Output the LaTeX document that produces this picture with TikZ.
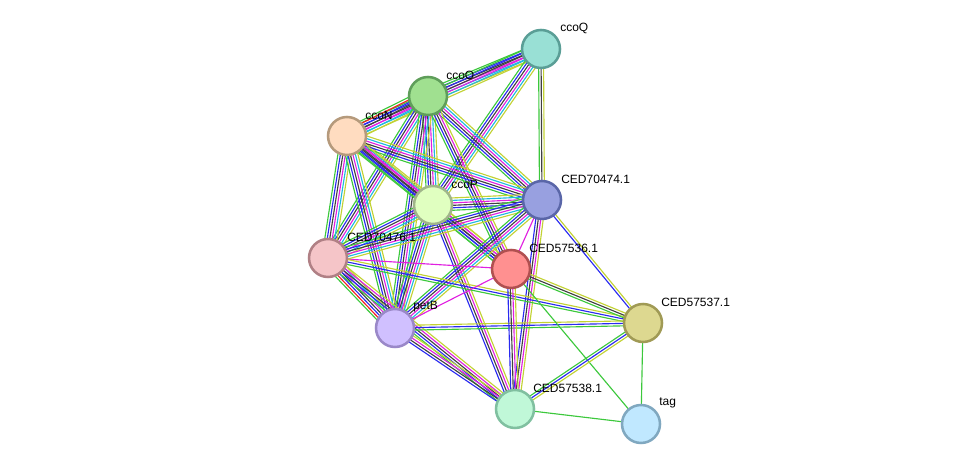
\documentclass[tikz,border=0pt]{standalone}
\usepackage{fontspec}
\setmainfont{Liberation Sans}
\usetikzlibrary{calc,backgrounds}

\definecolor{nbC}{HTML}{3CC83C}
\definecolor{fuC}{HTML}{F02020}
\definecolor{coC}{HTML}{2A2AF0}
\definecolor{exC}{HTML}{404040}
\definecolor{xpC}{HTML}{E020E0}
\definecolor{dbC}{HTML}{20B8E0}
\definecolor{tmC}{HTML}{C2D234}

\tikzset{
  nbhd/.style={draw=nbC},
  fusion/.style={draw=fuC},
  cooc/.style={draw=coC},
  coexp/.style={draw=exC},
  expt/.style={draw=xpC},
  dbase/.style={draw=dbC},
  tmine/.style={draw=tmC},
  prot/.style={circle,minimum size=28.5pt,inner sep=0pt,line width=1.9pt},
  lbl/.style={anchor=west,inner sep=0pt,font=\fontsize{9}{11}\selectfont}
}

% one line per evidence channel, side by side
\newcommand{\multiedge}[3]{%
  \foreach \ch [count=\n] in {#3} {\global\let\nch\n}%
  \foreach \ch [count=\i] in {#3} {%
    \pgfmathsetmacro{\off}{(\i-(\nch+1)/2)*1.85}%
    \draw[\ch,line width=0.85pt] ($(#1)!\off pt!90:(#2)$) -- ($(#2)!\off pt!-90:(#1)$);
  }%
}

\begin{document}
\begin{tikzpicture}[x=0.75pt,y=-0.75pt]
\useasboundingbox (0,0) rectangle (976,470);

% proteins
\node[prot,fill={rgb,255:red,153;green,224;blue,213},draw={rgb,255:red,90;green,158;blue,150}] (ccoQ) at (541,49) {};
\node[prot,fill={rgb,255:red,160;green,224;blue,144},draw={rgb,255:red,95;green,158;blue,90}] (ccoO) at (428,96) {};
\node[prot,fill={rgb,255:red,255;green,220;blue,192},draw={rgb,255:red,181;green,154;blue,124}] (ccoN) at (347,136) {};
\node[prot,fill={rgb,255:red,224;green,255;blue,192},draw={rgb,255:red,160;green,181;blue,138}] (ccoP) at (433,205) {};
\node[prot,fill={rgb,255:red,152;green,160;blue,224},draw={rgb,255:red,90;green,102;blue,168}] (n70474) at (542,200) {};
\node[prot,fill={rgb,255:red,245;green,197;blue,200},draw={rgb,255:red,176;green,128;blue,133}] (n70476) at (328,258) {};
\node[prot,fill={rgb,255:red,255;green,144;blue,144},draw={rgb,255:red,176;green,80;blue,80}] (n57536) at (511,269) {};
\node[prot,fill={rgb,255:red,208;green,192;blue,255},draw={rgb,255:red,154;green,136;blue,200}] (petB) at (395,328) {};
\node[prot,fill={rgb,255:red,221;green,216;blue,144},draw={rgb,255:red,160;green,154;blue,85}] (n57537) at (643,323) {};
\node[prot,fill={rgb,255:red,192;green,248;blue,216},draw={rgb,255:red,128;green,192;blue,160}] (n57538) at (515,409) {};
\node[prot,fill={rgb,255:red,192;green,232;blue,255},draw={rgb,255:red,128;green,168;blue,192}] (tag) at (641,424) {};

\begin{pgfonlayer}{background}
\multiedge{ccoQ}{ccoO}{nbhd,cooc,coexp,expt,dbase,tmine}
\multiedge{ccoQ}{ccoN}{nbhd,cooc,coexp,expt,dbase,tmine}
\multiedge{ccoQ}{ccoP}{nbhd,cooc,coexp,expt,dbase,tmine}
\multiedge{ccoQ}{n70474}{nbhd,coexp,tmine}
\multiedge{ccoO}{ccoN}{nbhd,fusion,cooc,coexp,expt,dbase,tmine}
\multiedge{ccoO}{ccoP}{nbhd,cooc,coexp,expt,dbase,tmine}
\multiedge{ccoO}{n70474}{nbhd,cooc,coexp,expt,dbase,tmine}
\multiedge{ccoO}{n70476}{nbhd,cooc,coexp,expt,dbase,tmine}
\multiedge{ccoO}{petB}{nbhd,cooc,coexp,expt,dbase,tmine}
\multiedge{ccoO}{n57536}{nbhd,cooc,coexp,expt,tmine}
\multiedge{ccoN}{ccoP}{nbhd,cooc,coexp,expt,dbase,tmine}
\multiedge{ccoN}{n70474}{nbhd,cooc,coexp,expt,dbase,tmine}
\multiedge{ccoN}{n70476}{nbhd,cooc,coexp,expt,dbase,tmine}
\multiedge{ccoN}{petB}{nbhd,cooc,coexp,expt,dbase,tmine}
\multiedge{ccoN}{n57536}{nbhd,cooc,coexp,expt,tmine}
\multiedge{ccoP}{n70474}{nbhd,cooc,coexp,expt,dbase,tmine}
\multiedge{ccoP}{n70476}{nbhd,cooc,coexp,expt,dbase,tmine}
\multiedge{ccoP}{petB}{nbhd,cooc,coexp,expt,dbase,tmine}
\multiedge{ccoP}{n57536}{nbhd,cooc,coexp,expt,tmine}
\multiedge{ccoP}{n57538}{cooc,coexp,expt,tmine}
\multiedge{n70474}{n70476}{nbhd,cooc,coexp,expt,dbase,tmine}
\multiedge{n70474}{petB}{nbhd,cooc,coexp,expt,dbase,tmine}
\multiedge{n70474}{n57536}{expt}
\multiedge{n70474}{n57538}{cooc,coexp,expt,tmine}
\multiedge{n70474}{n57537}{cooc,tmine}
\multiedge{n70476}{petB}{nbhd,fusion,cooc,coexp,expt,dbase,tmine}
\multiedge{n70476}{n57536}{expt}
\multiedge{n70476}{n57537}{nbhd,cooc,tmine}
\multiedge{n70476}{n57538}{nbhd,cooc,coexp,expt,tmine}
\multiedge{petB}{n57536}{expt}
\multiedge{petB}{n57537}{nbhd,cooc,tmine}
\multiedge{petB}{n57538}{cooc,coexp,expt,tmine}
\multiedge{n57536}{n57537}{nbhd,coexp,tmine}
\multiedge{n57536}{n57538}{cooc,coexp,expt,tmine}
\multiedge{n57536}{tag}{nbhd}
\multiedge{n57537}{n57538}{nbhd,cooc,tmine}
\multiedge{n57537}{tag}{nbhd}
\multiedge{n57538}{tag}{nbhd}
\end{pgfonlayer}

% labels
\node[lbl] (ccoQ-l) at ($(ccoQ)+(19,-21)$) {ccoQ};
\node[lbl] (ccoO-l) at ($(ccoO)+(18,-21)$) {ccoO};
\node[lbl] (ccoN-l) at ($(ccoN)+(18,-21)$) {ccoN};
\node[lbl] (ccoP-l) at ($(ccoP)+(18,-21)$) {ccoP};
\node[lbl] (n70474-l) at ($(n70474)+(19,-21)$) {CED70474.1};
\node[lbl] (n70476-l) at ($(n70476)+(19,-21)$) {CED70476.1};
\node[lbl] (n57536-l) at ($(n57536)+(18,-21)$) {CED57536.1};
\node[lbl] (petB-l) at ($(petB)+(18,-21)$) {petB};
\node[lbl] (n57537-l) at ($(n57537)+(18,-21)$) {CED57537.1};
\node[lbl] (n57538-l) at ($(n57538)+(18,-21)$) {CED57538.1};
\node[lbl] (tag-l) at ($(tag)+(18,-21)$) {tag};
\end{tikzpicture}
\end{document}
